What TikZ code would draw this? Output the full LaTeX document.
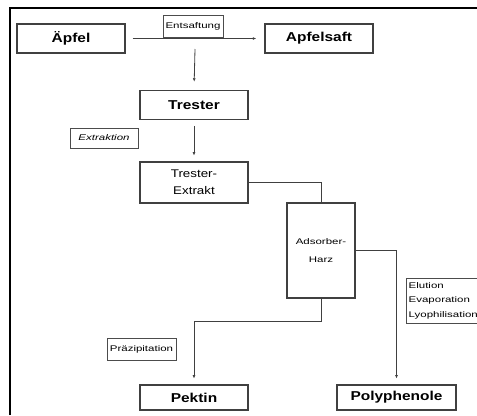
\documentclass[tikz,border=0pt]{standalone}
\usepackage{fontspec}
\setmainfont{Liberation Sans}
\newfontfamily\breit[FakeStretch=1.4]{Liberation Sans}
\newfontfamily\stoffbreit[FakeStretch=1.2]{Liberation Sans}
\usetikzlibrary{arrows.meta}
\begin{document}
\begin{tikzpicture}[x=0.03cm,y=-0.03cm,
  stoff/.style={draw=black!75,line width=0.9pt,minimum width=3.24cm,minimum height=0.87cm,
    inner sep=0pt,font=\stoffbreit\bfseries\fontsize{11}{12}\selectfont,align=center},
  schritt/.style={draw=black!70,line width=0.6pt,inner sep=1pt,font=\breit\fontsize{7}{8}\selectfont},
  fluss/.style={draw=black!75,line width=0.7pt},
  pfeil/.style={fluss,-{Latex[length=3pt,width=2.5pt]}}]
\useasboundingbox (0,0) rectangle (477,415);
% Rahmen
\draw[line width=1pt] (10,415) -- (10,8) -- (477,8);
% Stoffe
\node[stoff] (apfel) at (71,38.5) {Äpfel};
\node[stoff] (saft) at (319,38.5) {Apfelsaft};
\node[stoff] (trester) at (194,105) {Trester};
\node[stoff,minimum height=1.23cm,font=\stoffbreit\fontsize{9.5}{14.5}\selectfont] (extrakt) at (194,182.5) {Trester-\\Extrakt};
\node[stoff,minimum width=2.04cm,minimum height=2.85cm,font=\breit\fontsize{7}{15}\selectfont] (harz) at (321,250.5) {Adsorber-\\Harz};
\node[stoff,minimum height=0.75cm] (pektin) at (194,397.5) {Pektin};
\node[stoff,minimum width=3.57cm,minimum height=0.75cm] (phenol) at (396.5,397.5) {Polyphenole};
% Schritte
\node[schritt,minimum width=1.8cm,minimum height=0.66cm] (lsaft) at (193,26) {Entsaftung};
\node[schritt,minimum width=2.04cm,minimum height=0.6cm,font=\breit\itshape\fontsize{7}{8}\selectfont] (lextrakt) at (104,138) {Extraktion};
\node[schritt,minimum width=2.07cm,minimum height=0.66cm] (lpraez) at (141.5,349) {Präzipitation};
\node[schritt,anchor=north west,align=left,minimum height=1.35cm,inner sep=2pt,font=\breit\fontsize{7}{12.7}\selectfont] (lelution) at (406,278) {Elution\\Evaporation\\Lyophilisation};
% Verbindungen
\coordinate (teil) at (195,49);
\draw[pfeil,shorten <=6pt,shorten >=7pt] (apfel.east) -- (apfel.east -| saft.west);
\draw[pfeil,shorten >=7pt] (teil) -- (trester.north);
\draw[pfeil,shorten <=5pt,shorten >=5pt] (trester.south) -- (extrakt.north);
\draw[fluss] (extrakt.east) -| (harz.north);
\draw[pfeil,shorten >=5pt] (harz.east) -| (phenol.north);
\draw[pfeil,shorten >=5pt] (harz.south) -- ++(0,23) -| (pektin.north);
\end{tikzpicture}
\end{document}
